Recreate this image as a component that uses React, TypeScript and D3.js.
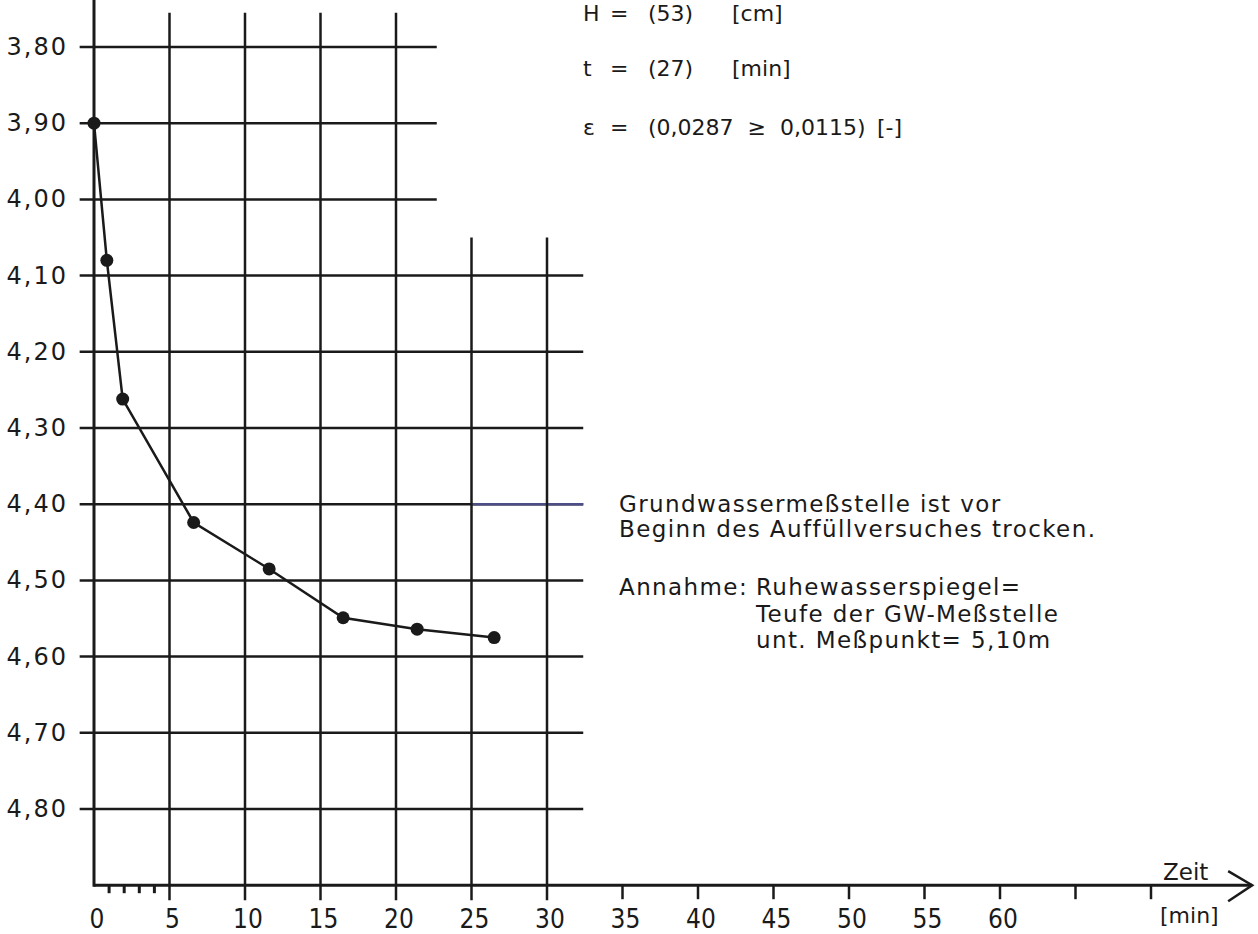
import * as d3 from 'd3';
import React, { useRef, useEffect } from 'react';

// Auffuellversuch: Zeit [min] gegen Wasserspiegel unter Messpunkt [m]
const times = [0, 0.85, 1.9, 6.6, 11.6, 16.5, 21.4, 26.5]
const levels = [3.90, 4.08, 4.262, 4.424, 4.485, 4.549, 4.564, 4.575]

const yTicks = [3.8, 3.9, 4.0, 4.1, 4.2, 4.3, 4.4, 4.5, 4.6, 4.7, 4.8]
const yUpperTicks = [3.8, 3.9, 4.0]
const xLabelTicks = [0, 5, 10, 15, 20, 25, 30, 35, 40, 45, 50, 55, 60]
const xExtraTicks = [65, 70]
const xMinorTicks = [1, 2, 3, 4]
const xGridLong = [5, 10, 15, 20]
const xGridShort = [25, 30]

const paramSymbols = ['H', 't', 'ε']
const paramValues = ['(53)', '(27)', '(0,0287  ≥  0,0115)']
const paramUnits = ['[cm]', '[min]', '[-]']

const noteLines = ['Grundwassermeßstelle ist vor', 'Beginn des Auffüllversuches trocken.']
const assumptionLabel = 'Annahme:'
const assumptionLines = ['Ruhewasserspiegel=', 'Teufe der GW-Meßstelle', 'unt. Meßpunkt= 5,10m']

export default function App() {
    const ref = useRef(null)

    useEffect(() => {
        d3.select(ref.current).selectAll('*').remove()

        const svg = d3.select(ref.current)
            .append('svg')
            .attr('width', 1258)
            .attr('height', 934)
            .style('position', 'absolute')
            .style('left', 0)
            .style('top', 0)
            .style('background', '#fff')

        const x = d3.scaleLinear().domain([0, 60]).range([94, 1000])
        const y = d3.scaleLinear().domain([3.8, 4.8]).range([47, 809])

        const ink = '#1a1a1a'
        const font = '"DejaVu Sans", sans-serif'
        const xLeft = -0.95, xMidEnd = 22.7, xEnd = 32.4, xArrow = 76.7
        const yBottom = 4.9, yGridTop = 3.755, yShortTop = 4.05
        const y0 = y(yBottom)

        // horizontale Rasterlinien
        svg.append('g')
            .selectAll('line')
            .data(yTicks)
            .join('line')
            .attr('x1', x(xLeft))
            .attr('x2', d => x(yUpperTicks.includes(d) ? xMidEnd : xEnd))
            .attr('y1', d => y(d))
            .attr('y2', d => y(d))
            .attr('stroke', ink)
            .attr('stroke-width', 2.5)

        // Scan-Verfaerbung auf 4,40
        svg.append('line')
            .attr('x1', x(25)).attr('x2', x(xEnd))
            .attr('y1', y(4.4)).attr('y2', y(4.4))
            .attr('stroke', '#4d4d88')
            .attr('stroke-width', 2.5)

        // vertikale Rasterlinien
        svg.append('g')
            .selectAll('line')
            .data(xGridLong.concat(xGridShort))
            .join('line')
            .attr('x1', d => x(d))
            .attr('x2', d => x(d))
            .attr('y1', d => y(xGridShort.includes(d) ? yShortTop : yGridTop))
            .attr('y2', y0 + 15)
            .attr('stroke', ink)
            .attr('stroke-width', 2.5)

        // Teilstriche
        svg.append('g')
            .selectAll('line')
            .data(xLabelTicks.filter(d => d > 30).concat(xExtraTicks))
            .join('line')
            .attr('x1', d => x(d)).attr('x2', d => x(d))
            .attr('y1', y0).attr('y2', y0 + 14)
            .attr('stroke', ink)
            .attr('stroke-width', 2.5)

        svg.append('g')
            .selectAll('line')
            .data(xMinorTicks)
            .join('line')
            .attr('x1', d => x(d)).attr('x2', d => x(d))
            .attr('y1', y0).attr('y2', y0 + 8)
            .attr('stroke', ink)
            .attr('stroke-width', 3)

        // Achsen
        svg.append('line')
            .attr('x1', x(0)).attr('x2', x(0))
            .attr('y1', 0).attr('y2', y0 + 1.5)
            .attr('stroke', ink)
            .attr('stroke-width', 3)

        svg.append('line')
            .attr('x1', x(0)).attr('x2', x(xArrow))
            .attr('y1', y0).attr('y2', y0)
            .attr('stroke', ink)
            .attr('stroke-width', 3)

        svg.append('polyline')
            .attr('points', [[x(xArrow) - 24, y0 - 14], [x(xArrow), y0], [x(xArrow) - 24, y0 + 16]].join(' '))
            .attr('fill', 'none')
            .attr('stroke', ink)
            .attr('stroke-width', 2.5)

        // Beschriftung Achsen
        const fmt = d3.format('.2f')
        svg.append('g')
            .selectAll('text')
            .data(yTicks)
            .join('text')
            .attr('x', 68)
            .attr('y', d => y(d) + 8)
            .attr('text-anchor', 'end')
            .style('font-family', font)
            .style('font-size', '24px')
            .style('letter-spacing', '2px')
            .attr('fill', ink)
            .text(d => fmt(d).replace('.', ','))

        svg.append('g')
            .selectAll('text')
            .data(xLabelTicks)
            .join('text')
            .attr('x', d => x(d) + 3)
            .attr('y', 928)
            .attr('text-anchor', 'middle')
            .style('font-family', '"DejaVu Sans Condensed", "DejaVu Sans", sans-serif')
            .style('font-size', '26px')
            .attr('fill', ink)
            .text(d => d)

        svg.append('text')
            .attr('x', 1163).attr('y', 880)
            .style('font-family', font).style('font-size', '23px')
            .attr('fill', ink)
            .text('Zeit')

        svg.append('text')
            .attr('x', 1160).attr('y', 923)
            .style('font-family', font).style('font-size', '22px')
            .attr('fill', ink)
            .text('[min]')

        // Messkurve
        const pts = times.map((t, i) => [t, levels[i]])
        svg.append('path')
            .datum(pts)
            .attr('fill', 'none')
            .attr('stroke', ink)
            .attr('stroke-width', 2.5)
            .attr('d', d3.line()
                .x(function (d) { return x(d[0]) })
                .y(function (d) { return y(d[1]) })
            )

        svg.append('g')
            .selectAll('circle')
            .data(pts)
            .join('circle')
            .attr('cx', d => x(d[0]))
            .attr('cy', d => y(d[1]))
            .attr('r', 6.5)
            .attr('fill', ink)

        // Kennwerte oben rechts
        const rowY = [21, 76, 135]
        const unitX = [732, 732, 877]
        const params = svg.append('g')
            .style('font-family', font)
            .style('font-size', '22px')
            .attr('fill', ink)
        paramSymbols.forEach((s, i) => {
            params.append('text').attr('x', 583).attr('y', rowY[i]).text(s)
            params.append('text').attr('x', 610).attr('y', rowY[i]).text('=')
            params.append('text').attr('x', 648).attr('y', rowY[i])
                .attr('xml:space', 'preserve')
                .style('white-space', 'pre')
                .text(paramValues[i])
            params.append('text').attr('x', unitX[i]).attr('y', rowY[i]).text(paramUnits[i])
        })

        // Hinweise
        const notes = svg.append('g')
            .style('font-family', font)
            .style('font-size', '23px')
            .style('letter-spacing', '1.4px')
            .attr('fill', ink)
        notes.selectAll('text.n')
            .data(noteLines)
            .join('text')
            .attr('class', 'n')
            .attr('x', 619)
            .attr('y', (d, i) => 512 + i * 25)
            .text(d => d)
        notes.append('text')
            .attr('x', 619).attr('y', 595)
            .text(assumptionLabel)
        notes.selectAll('text.a')
            .data(assumptionLines)
            .join('text')
            .attr('class', 'a')
            .attr('x', 756)
            .attr('y', (d, i) => 595 + i * 26.5)
            .text(d => d)
    }, [])

    return <div ref={ref} />
}
